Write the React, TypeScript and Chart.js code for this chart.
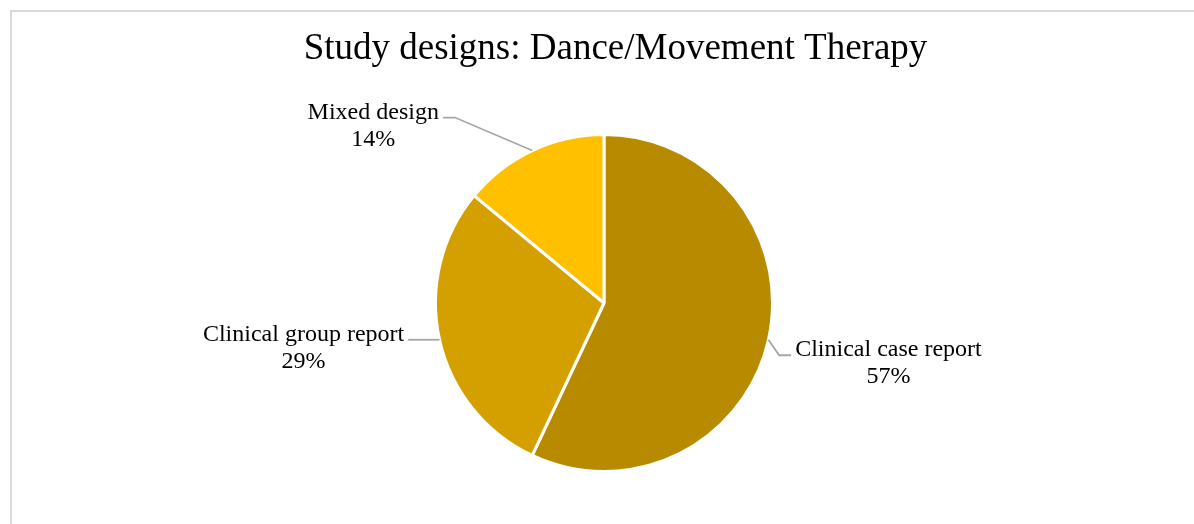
import { useEffect, useRef } from "react";
import { Chart, registerables } from "chart.js";

Chart.register(...registerables);

const categories = ["Clinical case report", "Clinical group report", "Mixed design"];
const values = [57, 29, 14];
const percentLabels = ["57%", "29%", "14%"];
const sliceColors = ["#B78A00", "#D4A000", "#FFC000"];
const titleText = "Study designs: Dance/Movement Therapy";

// offset of each label's first-line centre/baseline from the slice's outer mid point
const labelOffsets = [
  { dx: 120, dy: 16.5 },
  { dx: -136, dy: 1 },
  { dx: -159, dy: -32 },
];

const FONT = "'Liberation Serif', 'Times New Roman', serif";

const decorPlugin = {
  id: "decor",
  beforeDraw(chart: any) {
    const ctx = chart.ctx;
    ctx.save();
    ctx.fillStyle = "#D9D9D9";
    ctx.fillRect(10, 10, 2, chart.height);
    ctx.fillRect(10, 10, chart.width, 2);
    ctx.fillStyle = "#000000";
    ctx.font = `37px ${FONT}`;
    ctx.textAlign = "center";
    ctx.textBaseline = "alphabetic";
    ctx.fillText(titleText, chart.width / 2 + 18.5, 59);
    ctx.restore();
  },
  afterDatasetsDraw(chart: any) {
    const ctx = chart.ctx;
    const meta = chart.getDatasetMeta(0);
    ctx.save();
    ctx.font = `24px ${FONT}`;
    ctx.textAlign = "center";
    ctx.textBaseline = "alphabetic";
    meta.data.forEach((arc: any, i: number) => {
      const p = arc.getProps(["x", "y", "startAngle", "endAngle", "outerRadius"], true);
      const mid = (p.startAngle + p.endAngle) / 2;
      const ax = p.x + Math.cos(mid) * p.outerRadius;
      const ay = p.y + Math.sin(mid) * p.outerRadius;
      const off = labelOffsets[i];
      const tx = ax + off.dx;
      const ty = ay + off.dy;
      const w = ctx.measureText(categories[i]).width;
      const dir = off.dx < 0 ? 1 : -1;
      const edge = tx + dir * (w / 2 + 4);
      const elbow = edge + dir * 12;
      const ly = ty - 1;
      ctx.strokeStyle = "#A6A6A6";
      ctx.lineWidth = 1.8;
      ctx.beginPath();
      ctx.moveTo(edge, ly);
      ctx.lineTo(elbow, ly);
      ctx.lineTo(ax, ay);
      ctx.stroke();
      ctx.fillStyle = "#000000";
      ctx.fillText(categories[i], tx, ty);
      ctx.fillText(percentLabels[i], tx, ty + 27);
    });
    ctx.restore();
  },
};

export default function App() {
  const canvasRef = useRef<HTMLCanvasElement | null>(null);

  useEffect(() => {
    if (!canvasRef.current) return;
    const chart = new Chart(canvasRef.current, {
      type: "pie",
      data: {
        labels: categories,
        datasets: [
          {
            data: values,
            backgroundColor: sliceColors,
            borderColor: "#FFFFFF",
            borderWidth: 3,
          },
        ],
      },
      options: {
        animation: false,
        responsive: false,
        maintainAspectRatio: false,
        layout: { padding: { top: 133, bottom: 51, left: 14, right: 0 } },
        plugins: {
          legend: { display: false },
          tooltip: { enabled: false },
          title: { display: false },
        },
      },
      plugins: [decorPlugin],
    });
    return () => chart.destroy();
  }, []);

  return (
    <div style={{ position: "absolute", left: 0, top: 0, width: 1194, height: 524, background: "#FFFFFF" }}>
      <canvas ref={canvasRef} width={1194} height={524} style={{ width: 1194, height: 524 }} />
    </div>
  );
}
